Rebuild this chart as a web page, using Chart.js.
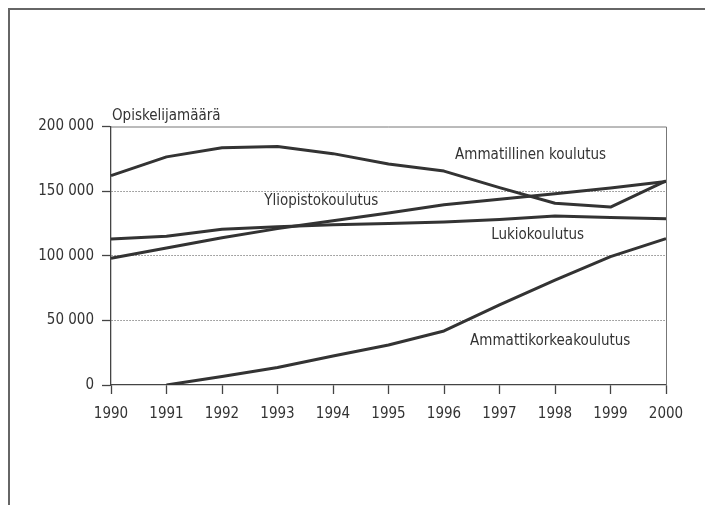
<!DOCTYPE html>
<html>
<head>
<meta charset="utf-8">
<script src="https://cdn.jsdelivr.net/npm/chart.js@4.4.1/dist/chart.umd.min.js"></script>
<style>
  html, body { margin: 0; padding: 0; background: #fff; width: 705px; height: 505px; overflow: hidden; }
  #frame { position: absolute; left: 8px; top: 8px; width: 900px; height: 700px;
           border-left: 2px solid #666; border-top: 2px solid #666; }
  #wrap { position: absolute; left: 0; top: 0; width: 705px; height: 505px; }
</style>
</head>
<body>
<div id="frame"></div>
<div id="wrap"><canvas id="c" width="705" height="505"></canvas></div>
<script>
// ---- data ----
const years = ['1990','1991','1992','1993','1994','1995','1996','1997','1998','1999','2000'];
const ammatillinen = [162000, 176500, 183500, 184500, 179000, 171000, 165500, 152700, 140600, 137700, 158000];
const yliopisto    = [98000, 106000, 114000, 121000, 127000, 133000, 139500, 143800, 148000, 152500, 157500];
const lukio        = [113000, 115000, 120500, 122500, 124000, 125000, 126200, 128000, 130700, 129500, 128700];
const amk          = [null, 0, 6500, 13500, 22500, 31000, 41800, 62000, 81200, 99300, 113300];
const yTicks = [0, 50000, 100000, 150000, 200000];
const yTitle = 'Opiskelijamäärä';
const seriesLabels = [
  { text: 'Ammatillinen koulutus', x: 6.2,  y: 178000 },
  { text: 'Yliopistokoulutus',     x: 2.76, y: 142000 },
  { text: 'Lukiokoulutus',         x: 6.85, y: 116000 },
  { text: 'Ammattikorkeakoulutus', x: 6.47, y: 34300 }
];

const FONT = "'Liberation Sans Narrow', 'DejaVu Sans Condensed', 'Arial Narrow', sans-serif";
const INK = '#333';

function fmt(v) { return String(v).replace(/\B(?=(\d{3})+(?!\d))/g, ' '); }

const boxPlugin = {
  id: 'box',
  afterDraw(chart) {
    const { ctx, chartArea: a, scales } = chart;
    ctx.save();
    ctx.strokeStyle = '#777';
    ctx.lineWidth = 1;
    ctx.beginPath();
    ctx.moveTo(a.left, a.top + 0.5);
    ctx.lineTo(a.right + 0.5, a.top + 0.5);
    ctx.lineTo(a.right + 0.5, a.bottom);
    ctx.stroke();
    ctx.fillStyle = INK;
    ctx.font = '15px ' + FONT;
    ctx.textBaseline = 'middle';
    ctx.textAlign = 'left';
    const xs = scales.x, ys = scales.y;
    for (const l of seriesLabels) {
      const px = xs.getPixelForValue(l.x);
      const py = ys.getPixelForValue(l.y);
      ctx.fillText(l.text, px, py);
    }
    ctx.fillText(yTitle, xs.getPixelForValue(0) + 1, ys.getPixelForValue(208000));
    ctx.restore();
  }
};

function ds(label, data) {
  return { label, data, borderColor: INK, borderWidth: 3, pointRadius: 0, tension: 0, fill: false,
           borderCapStyle: 'butt', borderJoinStyle: 'round' };
}

new Chart(document.getElementById('c'), {
  type: 'line',
  data: {
    labels: years,
    datasets: [
      ds('Ammatillinen koulutus', ammatillinen),
      ds('Yliopistokoulutus', yliopisto),
      ds('Lukiokoulutus', lukio),
      ds('Ammattikorkeakoulutus', amk)
    ]
  },
  options: {
    responsive: false,
    animation: false,
    devicePixelRatio: 1,
    layout: { padding: { top: 126.5, left: 0, right: 39, bottom: 0 } },
    plugins: { legend: { display: false }, tooltip: { enabled: false } },
    scales: {
      x: {
        type: 'category',
        offset: false,
        afterFit(s) { s.height = 120; },
        grid: { display: true, drawOnChartArea: false, drawTicks: true, tickLength: 9, tickColor: '#444', tickWidth: 1.3 },
        border: { display: true, color: '#444', width: 1.3 },
        ticks: { color: INK, font: { family: FONT, size: 15 }, padding: 11, maxRotation: 0, autoSkip: false }
      },
      y: {
        min: 0, max: 200000,
        afterFit(s) { s.width = 111; },
        afterBuildTicks(s) { s.ticks = yTicks.map(v => ({ value: v })); },
        grid: {
          display: true, drawOnChartArea: true, drawTicks: true, tickLength: 9, tickWidth: 1.3, tickColor: '#444',
          color: ctx => (ctx.tick && (ctx.tick.value === 0 || ctx.tick.value === 200000)) ? 'rgba(0,0,0,0)' : '#8a8a8a',
          lineWidth: 1
        },
        border: { display: true, color: '#444', width: 1.3, dash: [1.5, 1.5] },
        ticks: { color: INK, font: { family: FONT, size: 15 }, padding: 8, callback: v => fmt(v) }
      }
    }
  },
  plugins: [boxPlugin]
});
</script>
</body>
</html>
